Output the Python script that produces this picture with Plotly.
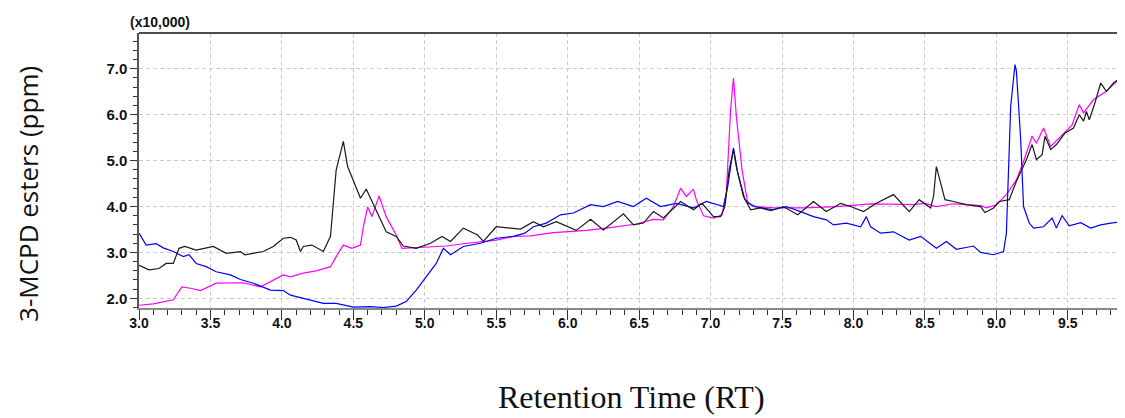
import plotly.graph_objects as go

# Retention time (min) and signal (x10,000)
black_x = [3.00,3.07,3.14,3.19,3.24,3.28,3.32,3.40,3.52,3.61,3.71,3.74,3.87,3.94,4.01,4.06,4.10,4.13,4.15,4.21,4.29,4.34,4.38,4.43,4.46,4.55,4.59,4.64,4.73,4.80,4.85,4.94,5.04,5.12,5.18,5.27,5.37,5.41,5.50,5.60,5.67,5.76,5.83,5.92,6.06,6.16,6.25,6.39,6.46,6.53,6.60,6.67,6.79,6.88,6.94,7.02,7.07,7.10,7.13,7.16,7.18,7.23,7.28,7.35,7.42,7.51,7.61,7.72,7.81,7.91,7.98,8.07,8.16,8.28,8.39,8.46,8.54,8.56,8.58,8.61,8.64,8.70,8.79,8.89,8.92,8.98,9.02,9.09,9.14,9.21,9.25,9.28,9.32,9.34,9.38,9.42,9.48,9.54,9.58,9.61,9.63,9.65,9.69,9.73,9.77,9.82,9.90]
black_y = [2.72,2.62,2.65,2.76,2.76,3.09,3.13,3.05,3.13,2.98,3.02,2.95,3.02,3.13,3.31,3.33,3.27,3.02,3.13,3.16,3.02,3.35,4.80,5.42,4.87,4.18,4.38,4.04,3.45,3.35,3.14,3.09,3.20,3.35,3.24,3.53,3.38,3.24,3.56,3.53,3.51,3.67,3.56,3.67,3.48,3.72,3.49,3.84,3.60,3.64,3.89,3.75,4.11,3.93,4.07,3.78,3.78,4.00,4.80,5.24,4.87,4.22,3.93,3.97,3.91,4.00,3.82,4.11,3.89,4.07,4.00,3.89,4.07,4.26,3.89,4.15,3.97,4.22,4.87,4.51,4.15,4.11,4.04,4.00,3.87,3.97,4.11,4.15,4.55,5.02,5.35,5.02,5.13,5.53,5.24,5.35,5.60,5.71,6.00,5.86,6.07,5.89,6.26,6.69,6.51,6.69,6.88]

magenta_x = [3.00,3.10,3.24,3.30,3.36,3.43,3.54,3.73,3.85,3.92,4.01,4.06,4.15,4.24,4.34,4.38,4.43,4.49,4.55,4.57,4.60,4.63,4.68,4.73,4.80,4.84,4.94,5.15,5.27,5.50,5.62,5.74,5.90,6.13,6.27,6.48,6.60,6.67,6.74,6.79,6.83,6.88,6.90,6.95,7.02,7.08,7.11,7.14,7.16,7.18,7.22,7.26,7.32,7.44,7.65,7.88,8.12,8.30,8.42,8.50,8.58,8.70,8.89,8.93,9.00,9.07,9.14,9.19,9.25,9.28,9.33,9.38,9.45,9.53,9.58,9.61,9.68,9.77,9.90]
magenta_y = [1.85,1.88,1.97,2.25,2.22,2.17,2.33,2.34,2.25,2.36,2.51,2.47,2.55,2.60,2.69,2.91,3.16,3.09,3.16,3.56,3.99,3.78,4.23,3.78,3.38,3.09,3.11,3.14,3.19,3.27,3.35,3.36,3.43,3.48,3.53,3.62,3.72,3.71,4.00,4.40,4.22,4.38,4.15,3.80,3.75,3.82,4.29,6.11,6.80,5.97,4.80,4.07,4.00,3.97,3.97,4.00,4.06,4.05,4.04,4.07,4.00,4.06,4.02,3.97,4.04,4.26,4.58,4.98,5.53,5.38,5.71,5.31,5.53,5.78,6.22,6.04,6.33,6.51,6.91]

blue_x = [3.00,3.05,3.12,3.17,3.24,3.31,3.35,3.40,3.47,3.54,3.64,3.71,3.80,3.92,4.01,4.06,4.15,4.29,4.38,4.50,4.62,4.71,4.80,4.87,4.94,5.01,5.08,5.13,5.18,5.27,5.39,5.50,5.62,5.70,5.76,5.85,5.95,6.04,6.16,6.25,6.35,6.46,6.55,6.65,6.76,6.88,6.97,7.09,7.12,7.16,7.19,7.24,7.30,7.44,7.53,7.63,7.72,7.81,7.86,7.95,8.05,8.09,8.12,8.19,8.28,8.39,8.47,8.58,8.65,8.72,8.84,8.89,8.98,9.05,9.07,9.10,9.13,9.14,9.17,9.19,9.23,9.26,9.33,9.39,9.42,9.46,9.51,9.59,9.66,9.73,9.80,9.90]
blue_y = [3.42,3.16,3.19,3.10,3.02,2.91,2.95,2.76,2.69,2.58,2.51,2.41,2.33,2.18,2.17,2.07,2.00,1.89,1.89,1.81,1.82,1.80,1.83,1.93,2.18,2.47,2.76,3.09,2.95,3.13,3.20,3.31,3.35,3.42,3.56,3.64,3.82,3.86,4.04,4.00,4.11,4.00,4.18,4.00,4.07,3.97,4.11,4.00,4.44,5.28,4.73,4.15,4.00,3.93,4.00,3.89,3.78,3.71,3.60,3.64,3.56,3.78,3.56,3.42,3.45,3.27,3.35,3.09,3.24,3.07,3.14,3.00,2.95,3.02,3.42,6.18,7.09,6.95,5.46,4.00,3.64,3.53,3.56,3.75,3.53,3.80,3.58,3.65,3.53,3.60,3.64,3.67]

x_ticks = [3.0,3.5,4.0,4.5,5.0,5.5,6.0,6.5,7.0,7.5,8.0,8.5,9.0,9.5]
y_ticks = [2.0,3.0,4.0,5.0,6.0,7.0]

fig = go.Figure()
fig.add_trace(go.Scatter(x=magenta_x, y=magenta_y, mode="lines",
                         line=dict(color="#ff00ff", width=1.2), showlegend=False))
fig.add_trace(go.Scatter(x=blue_x, y=blue_y, mode="lines",
                         line=dict(color="#0000ff", width=1.2), showlegend=False))
fig.add_trace(go.Scatter(x=black_x, y=black_y, mode="lines",
                         line=dict(color="#1a1a1a", width=1.2), showlegend=False))

xtickfont = dict(family="Liberation Sans, Arial, sans-serif", size=14, color="#111", weight=700)
ytickfont = dict(family="Liberation Sans, Arial, sans-serif", size=15, color="#111", weight=700)

fig.update_layout(
    width=1117, height=410,
    margin=dict(l=131, r=0, t=25, b=110, autoexpand=False),
    paper_bgcolor="white", plot_bgcolor="white",
    xaxis=dict(range=[3.0, 9.90], tickmode="array", tickvals=x_ticks,
               ticktext=[f"{v:.1f}" for v in x_ticks],
               ticks="outside", ticklen=10, tickwidth=1.2, tickcolor="#333",
               ticklabelstandoff=-9,
               minor=dict(dtick=0.1, tick0=3.0, ticks="outside", ticklen=5, tickcolor="#333",
                          showgrid=False),
               showgrid=True, gridcolor="#cccccc", griddash="4px,3px", gridwidth=1,
               showline=True, linecolor="#888888", linewidth=2,
               zeroline=False, tickfont=xtickfont, automargin=False),
    yaxis=dict(range=[1.79, 7.78], tickmode="array", tickvals=y_ticks,
               ticktext=[f"{v:.1f}" for v in y_ticks],
               ticks="outside", ticklen=7, tickwidth=1.2, tickcolor="#333",
               minor=dict(dtick=0.2, tick0=2.0, ticks="outside", ticklen=4, tickcolor="#333",
                          showgrid=False),
               showgrid=True, gridcolor="#cccccc", griddash="4px,3px", gridwidth=1,
               showline=True, linecolor="#555555", linewidth=1.5,
               zeroline=False, tickfont=ytickfont, automargin=False),
    shapes=[dict(type="line", xref="paper", yref="paper", x0=0, x1=1, y0=1, y1=1,
                 line=dict(color="#111", width=1.5))],
    annotations=[
        dict(text="(x10,000)", xref="paper", yref="paper", x=0.0213, y=1,
             xanchor="center", yanchor="bottom", yshift=1, showarrow=False,
             font=dict(family="Liberation Sans, Arial, sans-serif", size=14, color="#111", weight=700)),
        dict(text="3-MCPD esters (ppm)", xref="paper", yref="paper",
             x=-0.1126, y=0.4145, xanchor="center", yanchor="middle", textangle=-90,
             showarrow=False,
             font=dict(family="Open Sans, sans-serif", size=26, color="#111")),
        dict(text="Retention Time (RT)", xref="paper", yref="paper",
             x=0.499, y=-0.324, xanchor="center", yanchor="middle", showarrow=False,
             font=dict(family="Liberation Serif, serif", size=32, color="#111")),
    ],
)

fig.write_html("out.html")
